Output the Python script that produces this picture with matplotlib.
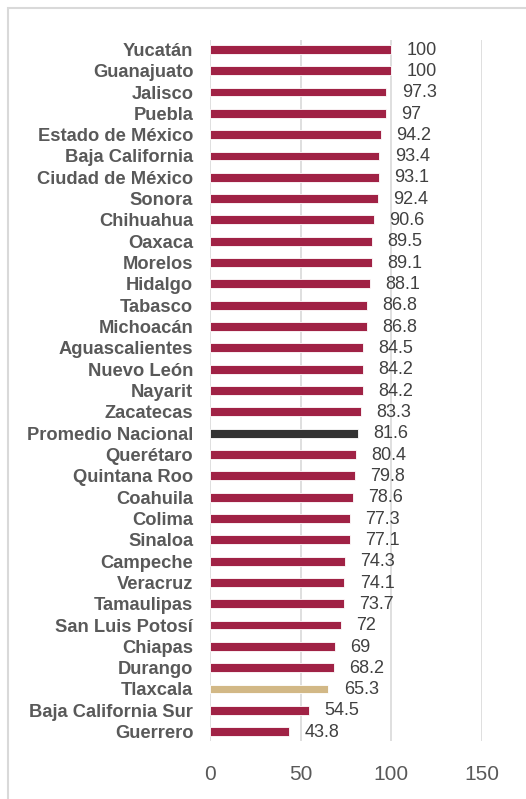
import matplotlib.pyplot as plt
from matplotlib.patches import Rectangle

estados = [
    "Yucatán", "Guanajuato", "Jalisco", "Puebla", "Estado de México",
    "Baja California", "Ciudad de México", "Sonora", "Chihuahua", "Oaxaca",
    "Morelos", "Hidalgo", "Tabasco", "Michoacán", "Aguascalientes",
    "Nuevo León", "Nayarit", "Zacatecas", "Promedio Nacional", "Querétaro",
    "Quintana Roo", "Coahuila", "Colima", "Sinaloa", "Campeche", "Veracruz",
    "Tamaulipas", "San Luis Potosí", "Chiapas", "Durango", "Tlaxcala",
    "Baja California Sur", "Guerrero",
]
valores = [
    100, 100, 97.3, 97, 94.2, 93.4, 93.1, 92.4, 90.6, 89.5, 89.1, 88.1,
    86.8, 86.8, 84.5, 84.2, 84.2, 83.3, 81.6, 80.4, 79.8, 78.6, 77.3, 77.1,
    74.3, 74.1, 73.7, 72, 69, 68.2, 65.3, 54.5, 43.8,
]
xticks = [0, 50, 100, 150]

GUINDA = "#A02245"
GRIS = "#333333"
ARENA = "#D2B886"
colores = []
for e in estados:
    if e == "Promedio Nacional":
        colores.append(GRIS)
    elif e == "Tlaxcala":
        colores.append(ARENA)
    else:
        colores.append(GUINDA)

plt.rcParams["font.family"] = ["Liberation Sans", "DejaVu Sans"]

W, H = 526, 799
fig = plt.figure(figsize=(W / 100, H / 100), dpi=100)
ax = fig.add_axes([210 / W, 1 - 741 / H, (482 - 210) / W, 701 / H])

pos = list(range(len(estados)))
ax.barh(pos, valores, height=0.42, color=colores, edgecolor="white",
        linewidth=0.6, zorder=3)

for p, v in zip(pos, valores):
    ax.annotate(f"{v:g}", (v, p), xytext=(11, -0.5), textcoords="offset points",
                va="center", ha="left", fontsize=13, color="#404040")

ax.set_xlim(0, 150)
ax.set_ylim(len(estados) - 0.56, -0.44)
ax.set_xticks(xticks)
ax.set_xticklabels([str(t) for t in xticks], fontsize=15, color="#595959")
ax.set_yticks(pos)
ax.set_yticklabels(estados, fontsize=13.2, fontweight="bold", color="#595959")
ax.tick_params(axis="both", length=0)
ax.tick_params(axis="x", pad=17)
ax.tick_params(axis="y", pad=12)
ax.grid(axis="x", color="#D9D9D9", linewidth=1.2, zorder=0)
for s in ax.spines.values():
    s.set_visible(False)

fig.patches.append(Rectangle((8 / W, -0.1), 1.2, 1 - 8 / H + 0.1,
                             transform=fig.transFigure, fill=False,
                             edgecolor="#D9D9D9", linewidth=1.5))

fig.savefig("out.png", dpi=100)
